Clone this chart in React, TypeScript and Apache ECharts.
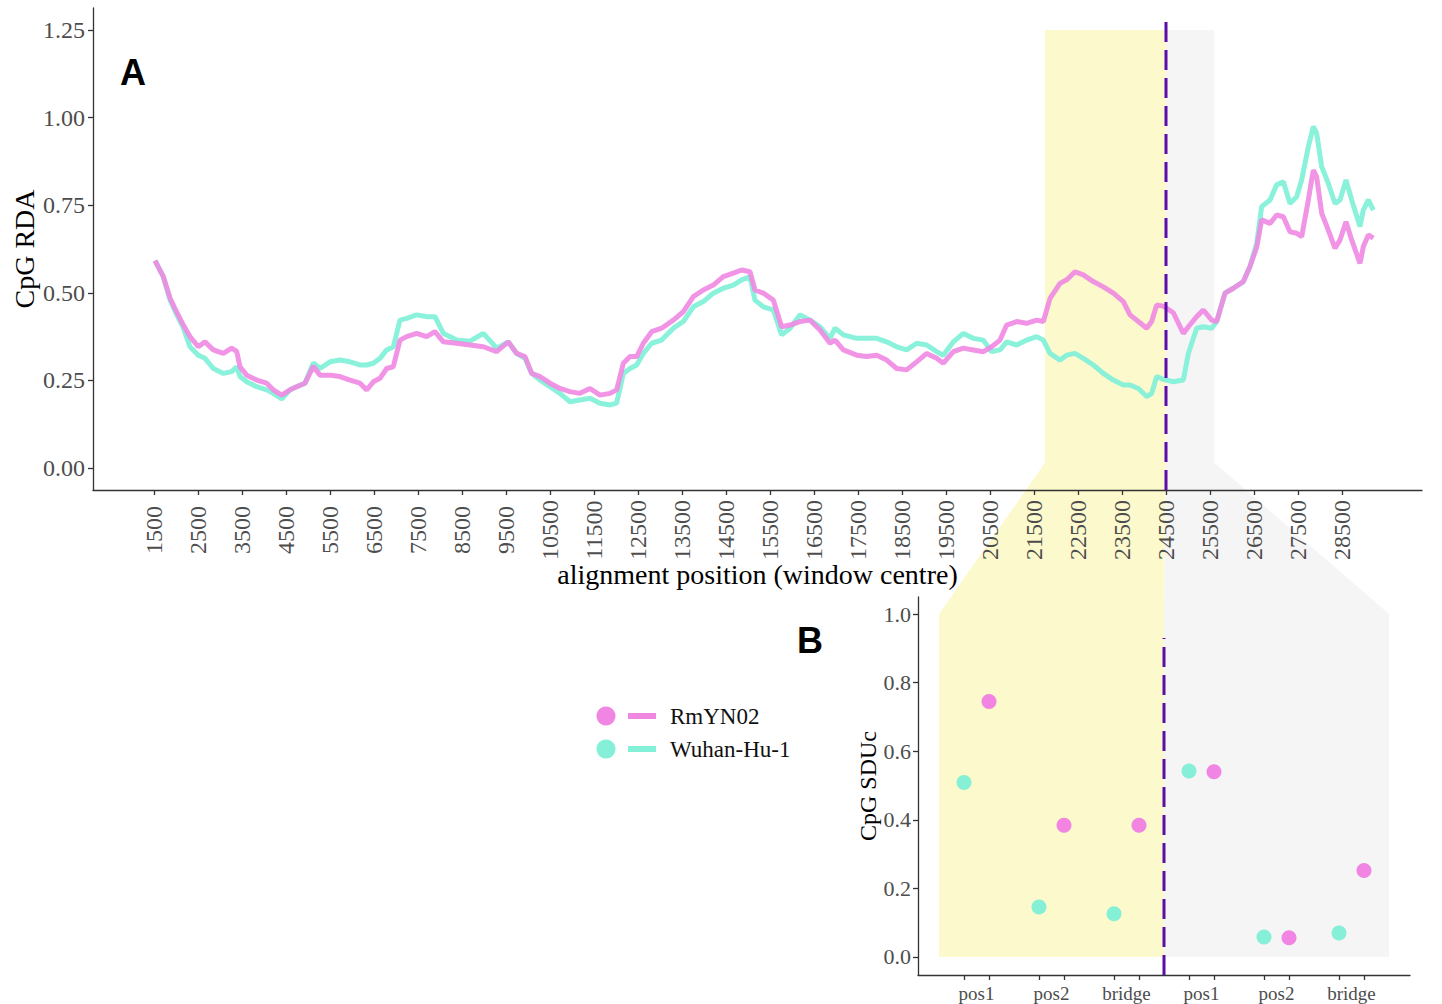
import React, { useEffect, useRef } from "react";
import * as echarts from "echarts";

// ---------- Panel A data (sliding-window CpG RDA) ----------
const windowCentres = [
  1523, 1712, 1864, 1977, 2167, 2318, 2507, 2659, 2848, 3076, 3265, 3379, 3455, 3607, 3834, 4061,
  4212, 4402, 4591, 4743, 4932, 5121, 5273, 5500, 5727, 5955, 6182, 6334, 6485, 6636, 6788, 6939,
  7091, 7242, 7470, 7697, 7886, 8076, 8379, 8682, 8985, 9288, 9553, 9742, 9932, 10083, 10273, 10500,
  10727, 10955, 11182, 11409, 11636, 11864, 12015, 12167, 12318, 12470, 12621, 12811, 13038, 13303,
  13530, 13758, 13985, 14212, 14439, 14667, 14856, 15045, 15159, 15348, 15576, 15765, 15955, 16182,
  16409, 16636, 16864, 16977, 17167, 17470, 17697, 17924, 18152, 18379, 18606, 18833, 19061, 19288,
  19439, 19667, 19894, 20121, 20348, 20538, 20727, 20879, 21106, 21333, 21561, 21712, 21864, 22091,
  22242, 22432, 22621, 22848, 23076, 23303, 23530, 23682, 23871, 24061, 24174, 24288, 24439, 24667,
  24894, 25008, 25197, 25348, 25538, 25652, 25841, 26030, 26258, 26409, 26561, 26674, 26864, 27015,
  27167, 27318, 27470, 27583, 27735, 27848, 27924, 28038, 28189, 28341, 28455, 28591, 28720, 28909,
  28985, 29098, 29212,
];
const rmyn02Rda = [
  0.592, 0.546, 0.485, 0.455, 0.408, 0.375, 0.346, 0.36, 0.337, 0.327, 0.342, 0.333, 0.289, 0.265, 0.251, 0.242,
  0.223, 0.208, 0.223, 0.232, 0.242, 0.29, 0.265, 0.265, 0.261, 0.251, 0.242, 0.223, 0.246, 0.256, 0.284, 0.289,
  0.365, 0.375, 0.384, 0.375, 0.389, 0.36, 0.356, 0.351, 0.346, 0.332, 0.36, 0.327, 0.318, 0.27, 0.261, 0.242,
  0.227, 0.218, 0.213, 0.227, 0.208, 0.213, 0.223, 0.299, 0.318, 0.318, 0.356, 0.389, 0.399, 0.422,
  0.446, 0.489, 0.508, 0.522, 0.546, 0.556, 0.565, 0.56, 0.508, 0.499, 0.479, 0.403, 0.408, 0.418,
  0.422, 0.394, 0.356, 0.365, 0.337, 0.322, 0.318, 0.322, 0.308, 0.284, 0.28, 0.303, 0.327, 0.313,
  0.299, 0.332, 0.342, 0.337, 0.332, 0.346, 0.365, 0.408, 0.418, 0.413, 0.422, 0.418, 0.484, 0.527,
  0.537, 0.56, 0.551, 0.532, 0.517, 0.499, 0.475, 0.437, 0.418, 0.399, 0.418, 0.465, 0.462, 0.443,
  0.384, 0.403, 0.432, 0.451, 0.422, 0.418, 0.499, 0.513, 0.532, 0.575, 0.63, 0.708, 0.698, 0.722,
  0.717, 0.674, 0.67, 0.66, 0.765, 0.85, 0.831, 0.727, 0.679, 0.627, 0.651, 0.703, 0.651, 0.584,
  0.632, 0.665, 0.656,
];
const wuhanRda = [
  0.592, 0.546, 0.48, 0.448, 0.4, 0.346, 0.322, 0.313, 0.284, 0.27, 0.275, 0.289, 0.261, 0.246, 0.232, 0.223,
  0.213, 0.197, 0.223, 0.232, 0.242, 0.3, 0.284, 0.303, 0.308, 0.303, 0.294, 0.294, 0.299, 0.313, 0.337, 0.346,
  0.422, 0.427, 0.437, 0.432, 0.432, 0.384, 0.365, 0.362, 0.384, 0.342, 0.36, 0.327, 0.313, 0.27, 0.251, 0.232,
  0.213, 0.189, 0.194, 0.199, 0.185, 0.18, 0.185, 0.27, 0.284, 0.294, 0.327, 0.356, 0.365, 0.399,
  0.418, 0.46, 0.475, 0.499, 0.513, 0.522, 0.537, 0.546, 0.479, 0.46, 0.451, 0.38, 0.399, 0.437,
  0.422, 0.403, 0.37, 0.399, 0.38, 0.37, 0.37, 0.37, 0.36, 0.346, 0.337, 0.356, 0.351, 0.332,
  0.322, 0.36, 0.384, 0.37, 0.365, 0.332, 0.337, 0.36, 0.351, 0.365, 0.375, 0.365, 0.327, 0.308,
  0.322, 0.327, 0.313, 0.294, 0.27, 0.251, 0.237, 0.237, 0.227, 0.204, 0.213, 0.261, 0.253, 0.246,
  0.251, 0.327, 0.399, 0.403, 0.399, 0.418, 0.499, 0.513, 0.532, 0.575, 0.641, 0.746, 0.765, 0.808,
  0.817, 0.755, 0.774, 0.822, 0.917, 0.974, 0.955, 0.86, 0.812, 0.755, 0.765, 0.822, 0.765, 0.689,
  0.736, 0.765, 0.736,
];
const xTicksA = [
  1500, 2500, 3500, 4500, 5500, 6500, 7500, 8500, 9500, 10500, 11500, 12500, 13500, 14500,
  15500, 16500, 17500, 18500, 19500, 20500, 21500, 22500, 23500, 24500, 25500, 26500, 27500, 28500,
];
const yTicksA = [0, 0.25, 0.5, 0.75, 1.0, 1.25];

// highlighted windows / breakpoint (alignment positions)
const insertStart = 21750;
const breakPoint = 24500;
const insertEnd = 25600;

// ---------- Panel B data (CpG SDUc) ----------
const sduCategories = ["pos1", "pos2", "bridge", "pos1", "pos2", "bridge"];
const wuhanSdu = [0.509, 0.146, 0.126, 0.542, 0.058, 0.07];
const rmyn02Sdu = [0.745, 0.384, 0.384, 0.54, 0.056, 0.252];
const yTicksB = [0, 0.2, 0.4, 0.6, 0.8, 1.0];

const PINK = "#F088E2";
const CYAN = "#84F0D8";
const PINK_PT = "#F07EE2";
const CYAN_PT = "#7EEFD5";
const PURPLE = "#5A0DA8";
const YELLOW = "#FCF9CC";
const GREY = "#F5F5F5";
const SERIF = "'Liberation Serif', 'Times New Roman', serif";
const SANS = "'Liberation Sans', Arial, sans-serif";
const AXIS = { color: "#333333", width: 1.3 };

export default function App() {
  const ref = useRef<HTMLDivElement>(null);

  useEffect(() => {
    document.body.style.margin = "0";
    if (!ref.current) return;
    const chart = echarts.init(ref.current, undefined, { renderer: "svg" });

    const aYMin = -0.0628;
    const aYMax = 1.3128;
    const bYMin = -0.0525;
    const bYMax = 1.0496;
    const bXMin = -1.84;
    const bXMax = 17.84;
    const slotOf = (c: number, k: number) => c * 3 + k; // k=0 Wuhan, k=1 RmYN02
    const bBreak = 8;

    const option: any = {
      animation: false,
      backgroundColor: "#ffffff",
      textStyle: { fontFamily: SERIF },
      grid: [
        { left: 93, top: 8, width: 1329, height: 482, containLabel: false, outerBoundsMode: "none" },
        { left: 918, top: 597, width: 492, height: 378, containLabel: false, outerBoundsMode: "none" },
      ],
      xAxis: [
        {
          type: "value",
          gridIndex: 0,
          min: 114,
          max: 30318,
          axisLine: { show: true, onZero: false, lineStyle: AXIS },
          axisTick: { show: true, length: 5, lineStyle: AXIS, customValues: xTicksA },
          axisLabel: {
            customValues: xTicksA,
            rotate: 90,
            align: "center",
            verticalAlign: "middle",
            margin: 40,
            fontSize: 24,
            color: "#4d4d4d",
            fontFamily: SERIF,
            formatter: (v: number) => String(v),
          },
          splitLine: { show: false },
          name: "alignment position (window centre)",
          nameLocation: "middle",
          nameGap: 70,
          nameMoveOverlap: false,
          nameTextStyle: { fontSize: 28, color: "#000", fontFamily: SERIF },
        },
        {
          type: "value",
          gridIndex: 1,
          min: bXMin,
          max: bXMax,
          axisLine: { show: true, onZero: false, lineStyle: AXIS },
          axisTick: {
            show: true,
            length: 5,
            lineStyle: AXIS,
            customValues: sduCategories.flatMap((_, c) => [slotOf(c, 0), slotOf(c, 1)]),
          },
          axisLabel: {
            customValues: sduCategories.map((_, c) => slotOf(c, 0.5)),
            margin: 9,
            fontSize: 19,
            color: "#4d4d4d",
            fontFamily: SERIF,
            formatter: (v: number) => sduCategories[Math.round((v - 0.5) / 3)],
          },
          splitLine: { show: false },
        },
      ],
      yAxis: [
        {
          type: "value",
          gridIndex: 0,
          min: aYMin,
          max: aYMax,
          axisLine: { show: true, onZero: false, lineStyle: AXIS },
          axisTick: { show: true, length: 5, lineStyle: AXIS, customValues: yTicksA },
          axisLabel: {
            customValues: yTicksA,
            margin: 8,
            fontSize: 24,
            color: "#4d4d4d",
            fontFamily: SERIF,
            formatter: (v: number) => v.toFixed(2),
          },
          splitLine: { show: false },
          name: "CpG RDA",
          nameLocation: "middle",
          nameRotate: 90,
          nameGap: 55,
          nameMoveOverlap: false,
          nameTextStyle: { fontSize: 28, color: "#000", fontFamily: SERIF },
        },
        {
          type: "value",
          gridIndex: 1,
          min: bYMin,
          max: bYMax,
          axisLine: { show: true, onZero: false, lineStyle: AXIS },
          axisTick: { show: true, length: 5, lineStyle: AXIS, customValues: yTicksB },
          axisLabel: {
            customValues: yTicksB,
            margin: 7,
            fontSize: 22,
            color: "#4d4d4d",
            fontFamily: SERIF,
            formatter: (v: number) => v.toFixed(1),
          },
          splitLine: { show: false },
          name: "CpG SDUc",
          nameLocation: "middle",
          nameRotate: 90,
          nameGap: 38,
          nameMoveOverlap: false,
          nameTextStyle: { fontSize: 24, color: "#000", fontFamily: SERIF },
        },
      ],
      series: [
        {
          name: "Wuhan-Hu-1",
          type: "line",
          xAxisIndex: 0,
          yAxisIndex: 0,
          data: windowCentres.map((x, i) => [x, wuhanRda[i]]),
          showSymbol: false,
          symbol: "none",
          lineStyle: { color: CYAN, width: 5, opacity: 0.95 },
          itemStyle: { color: CYAN },
          z: 3,
          silent: true,
        },
        {
          name: "RmYN02",
          type: "line",
          xAxisIndex: 0,
          yAxisIndex: 0,
          data: windowCentres.map((x, i) => [x, rmyn02Rda[i]]),
          showSymbol: false,
          symbol: "none",
          lineStyle: { color: PINK, width: 5, opacity: 0.9 },
          itemStyle: { color: PINK },
          z: 4,
          silent: true,
        },
        {
          name: "breakA",
          type: "line",
          xAxisIndex: 0,
          yAxisIndex: 0,
          data: [
            [breakPoint, aYMin],
            [breakPoint, 1.293],
          ],
          symbol: "none",
          lineStyle: { color: PURPLE, width: 3, type: [20, 8] },
          z: 5,
          silent: true,
        },
        {
          name: "Wuhan-Hu-1 SDUc",
          type: "scatter",
          xAxisIndex: 1,
          yAxisIndex: 1,
          data: wuhanSdu.map((v, c) => [slotOf(c, 0), v]),
          symbolSize: 15,
          itemStyle: { color: CYAN_PT, opacity: 0.95 },
          z: 4,
          silent: true,
        },
        {
          name: "RmYN02 SDUc",
          type: "scatter",
          xAxisIndex: 1,
          yAxisIndex: 1,
          data: rmyn02Sdu.map((v, c) => [slotOf(c, 1), v]),
          symbolSize: 15,
          itemStyle: { color: PINK_PT, opacity: 0.95 },
          z: 4,
          silent: true,
        },
        {
          name: "breakB",
          type: "line",
          xAxisIndex: 1,
          yAxisIndex: 1,
          data: [
            [bBreak, bYMin],
            [bBreak, 0.93],
          ],
          symbol: "none",
          lineStyle: { color: PURPLE, width: 3, type: [20, 8] },
          z: 5,
          silent: true,
        },
      ],
    };
    chart.setOption(option);

    const pA = (x: number, y: number) => chart.convertToPixel({ gridIndex: 0 } as any, [x, y]) as number[];
    const pB = (x: number, y: number) => chart.convertToPixel({ gridIndex: 1 } as any, [x, y]) as number[];
    const joinY = 0.015;

    const yellowPts = [
      pA(insertStart, 1.25),
      pA(breakPoint, 1.25),
      pA(breakPoint, joinY),
      pB(bBreak, 1.0),
      pB(bBreak, 0),
      pB(-1, 0),
      pB(-1, 1.0),
      pA(insertStart, joinY),
    ];
    const greyPts = [
      pA(breakPoint, 1.25),
      pA(insertEnd, 1.25),
      pA(insertEnd, joinY),
      pB(17, 1.0),
      pB(17, 0),
      pB(bBreak, 0),
      pB(bBreak, 1.0),
      pA(breakPoint, joinY),
    ];

    const legendRows = [
      { label: "RmYN02", color: PINK_PT, line: PINK, y: 716 },
      { label: "Wuhan-Hu-1", color: CYAN_PT, line: CYAN, y: 749 },
    ];

    chart.setOption({
      graphic: [
        { type: "polygon", z: -1, silent: true, shape: { points: yellowPts }, style: { fill: YELLOW } },
        { type: "polygon", z: -1, silent: true, shape: { points: greyPts }, style: { fill: GREY } },
        {
          type: "text",
          x: 133,
          y: 72,
          silent: true,
          style: { text: "A", fontFamily: SANS, fontWeight: "bold", fontSize: 36, fill: "#000", align: "center", verticalAlign: "middle" },
        },
        {
          type: "text",
          x: 810,
          y: 640,
          silent: true,
          style: { text: "B", fontFamily: SANS, fontWeight: "bold", fontSize: 36, fill: "#000", align: "center", verticalAlign: "middle" },
        },
        ...legendRows.flatMap((r) => [
          { type: "circle", silent: true, shape: { cx: 606, cy: r.y, r: 9.5 }, style: { fill: r.color, opacity: 0.95 } },
          { type: "line", silent: true, shape: { x1: 628, y1: r.y, x2: 656, y2: r.y }, style: { stroke: r.line, lineWidth: 6 } },
          {
            type: "text",
            x: 670,
            y: r.y,
            silent: true,
            style: { text: r.label, fontFamily: SERIF, fontSize: 23, fill: "#111", align: "left", verticalAlign: "middle" },
          },
        ]),
      ],
    });

    return () => chart.dispose();
  }, []);

  return <div ref={ref} style={{ width: 1442, height: 1004 }} />;
}
